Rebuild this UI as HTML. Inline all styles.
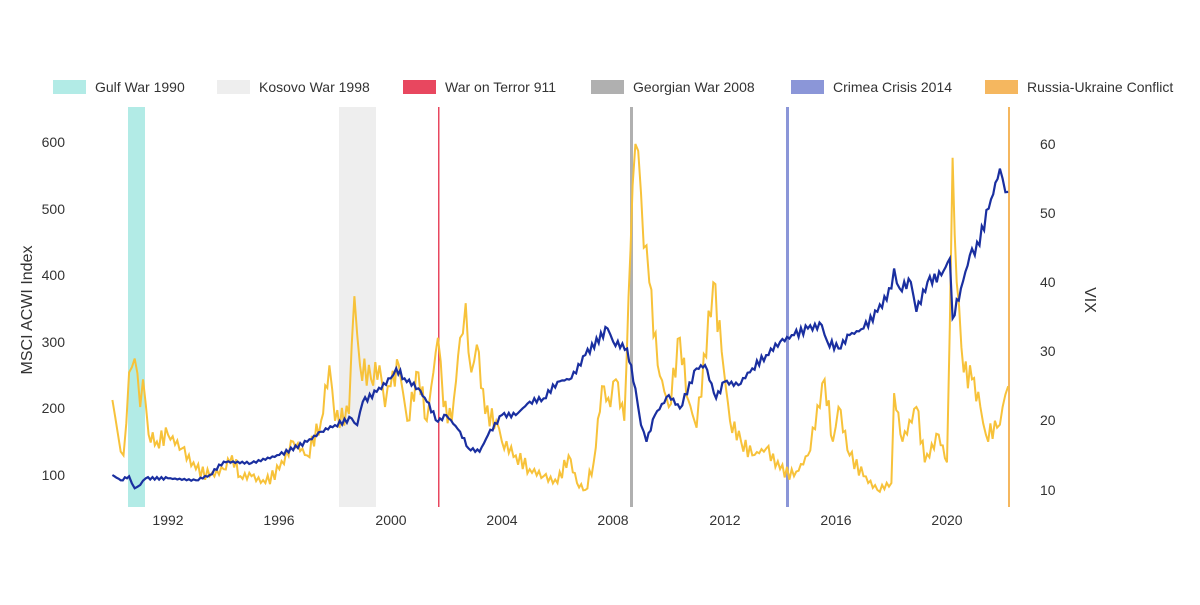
<!DOCTYPE html>
<html><head><meta charset="utf-8"><style>
body{margin:0;background:#fff;font-family:"Liberation Sans",sans-serif}
svg text{font-family:"Liberation Sans",sans-serif;fill:#333}
</style></head><body>
<svg id="s" width="1200" height="600" xmlns="http://www.w3.org/2000/svg">
<rect width="1200" height="600" fill="#fff"/>
<rect x="128" y="107" width="17" height="400" fill="#b2ebe6"/>
<rect x="339" y="107" width="37" height="400" fill="#eeeeee"/>
<rect x="438" y="107" width="1.5" height="400" fill="#e8475f"/>
<rect x="630" y="107" width="3" height="400" fill="#b0b0b0"/>
<rect x="786" y="107" width="3" height="400" fill="#8b96d8"/>
<rect x="1008" y="107" width="2" height="400" fill="#f5b75f"/>
<g font-size="14">
<rect x="53" y="80" width="33" height="14" fill="#b2ebe6"/><text x="95" y="92">Gulf War 1990</text>
<rect x="217" y="80" width="33" height="14" fill="#eeeeee"/><text x="259" y="92">Kosovo War 1998</text>
<rect x="403" y="80" width="33" height="14" fill="#e8475f"/><text x="445" y="92">War on Terror 911</text>
<rect x="591" y="80" width="33" height="14" fill="#b0b0b0"/><text x="633" y="92">Georgian War 2008</text>
<rect x="791" y="80" width="33" height="14" fill="#8b96d8"/><text x="833" y="92">Crimea Crisis 2014</text>
<rect x="985" y="80" width="33" height="14" fill="#f5b75f"/><text x="1027" y="92">Russia-Ukraine Conflict</text>
</g>
<g font-size="14" text-anchor="end">
<text x="65" y="147">600</text><text x="65" y="214">500</text><text x="65" y="280">400</text>
<text x="65" y="347">300</text><text x="65" y="413">200</text><text x="65" y="480">100</text>
</g>
<g font-size="14">
<text x="1040" y="149">60</text><text x="1040" y="218">50</text><text x="1040" y="287">40</text>
<text x="1040" y="356">30</text><text x="1040" y="425">20</text><text x="1040" y="495">10</text>
</g>
<g font-size="14" text-anchor="middle">
<text x="168" y="525">1992</text><text x="279" y="525">1996</text><text x="391" y="525">2000</text>
<text x="502" y="525">2004</text><text x="613" y="525">2008</text><text x="725" y="525">2012</text>
<text x="836" y="525">2016</text><text x="947" y="525">2020</text>
</g>
<text font-size="16" transform="translate(32,310) rotate(-90)" text-anchor="middle">MSCI ACWI Index</text>
<text font-size="16" transform="translate(1085,300) rotate(90)" text-anchor="middle">VIX</text>
<polyline id="vix" fill="none" stroke="#f7c23a" stroke-width="2"/>
<polyline id="acwi" fill="none" stroke="#1a2fa0" stroke-width="2.2"/>
</svg>
<script>
function X(t){return 112.4+(t-1990)*27.82}
var b=[[1990,100],[1990.3,92],[1990.6,98],[1990.8,80],[1991,85],[1991.2,95],[1992,95],[1993,92],[1993.5,100],[1994,120],[1995,118],[1996,130],[1997,150],[1997.5,165],[1998,175],[1998.6,185],[1998.8,175],[1999,210],[1999.5,225],[2000,245],[2000.2,260],[2000.5,245],[2001,230],[2001.3,210],[2001.7,180],[2002,190],[2002.5,165],[2002.8,140],[2003.2,135],[2003.5,160],[2004,190],[2004.5,190],[2005,210],[2005.5,215],[2006,240],[2006.5,245],[2007,280],[2007.8,320],[2008,300],[2008.5,290],[2008.8,230],[2009,175],[2009.2,150],[2009.5,190],[2010,220],[2010.4,200],[2011,260],[2011.3,265],[2011.7,215],[2012,240],[2012.5,235],[2013,260],[2013.5,280],[2014,300],[2014.5,310],[2015,320],[2015.5,325],[2015.7,300],[2016.1,290],[2016.5,310],[2017,320],[2017.5,345],[2018,380],[2018.1,410],[2018.3,380],[2018.7,390],[2018.9,345],[2019.3,390],[2019.8,400],[2020.1,425],[2020.2,335],[2020.5,380],[2020.9,440],[2021,430],[2021.5,500],[2021.9,560],[2022,545],[2022.2,525]];
var v=[[1990,23],[1990.2,18],[1990.4,15],[1990.6,27],[1990.8,29],[1991,22],[1991.1,26],[1991.3,18],[1991.6,17],[1992,18],[1992.5,16],[1993,13],[1993.5,12],[1994,13],[1994.3,15],[1994.6,12],[1995,12],[1995.5,11],[1996,13],[1996.5,17],[1997,15],[1997.5,20],[1997.8,28],[1998,20],[1998.5,21],[1998.7,38],[1998.9,28],[1999.3,26],[1999.6,28],[1999.8,22],[2000,25],[2000.3,28],[2000.6,20],[2001,27],[2001.3,20],[2001.7,32],[2001.9,22],[2002.2,20],[2002.5,32],[2002.7,37],[2002.9,27],[2003.1,31],[2003.4,21],[2003.8,20],[2004,17],[2004.5,15],[2005,13],[2005.5,12],[2006,11],[2006.4,15],[2006.7,11],[2007,10],[2007.3,14],[2007.6,25],[2007.9,22],[2008.1,26],[2008.4,20],[2008.7,54],[2008.8,60],[2008.9,59],[2009.1,45],[2009.3,40],[2009.6,28],[2010,22],[2010.4,32],[2010.7,23],[2011,19],[2011.6,40],[2011.9,30],[2012.2,20],[2012.6,17],[2013,15],[2013.5,16],[2014,13],[2014.5,12],[2015,15],[2015.6,26],[2015.9,17],[2016.1,22],[2016.5,15],[2017,12],[2017.5,10],[2018,11],[2018.1,24],[2018.4,17],[2018.9,22],[2019.2,14],[2019.7,18],[2020,14],[2020.2,58],[2020.35,40],[2020.6,27],[2020.9,26],[2021.2,22],[2021.4,18],[2021.8,19],[2022,22],[2022.2,25]];
function jitter(a,amp,sc){var o=[];for(var i=0;i<a.length-1;i++){var p=a[i],q=a[i+1];var n=Math.max(1,Math.round((q[0]-p[0])*12));for(var k=0;k<n;k++){var f=k/n;var val=p[1]+(q[1]-p[1])*f;if(k>0)val+=(Math.sin(i*7.3+k*3.1)*amp*(sc?val:1));o.push([p[0]+(q[0]-p[0])*f,val]);}}o.push(a[a.length-1]);return o;}
document.getElementById('acwi').setAttribute('points',jitter(b,0.02,true).map(function(p){return X(p[0]).toFixed(1)+','+(475-(p[1]-100)*0.666).toFixed(1)}).join(' '));
document.getElementById('vix').setAttribute('points',jitter(v,0.07,true).map(function(p){return X(p[0]).toFixed(1)+','+(490-(p[1]-10)*6.92).toFixed(1)}).join(' '));
</script>
</body></html>
